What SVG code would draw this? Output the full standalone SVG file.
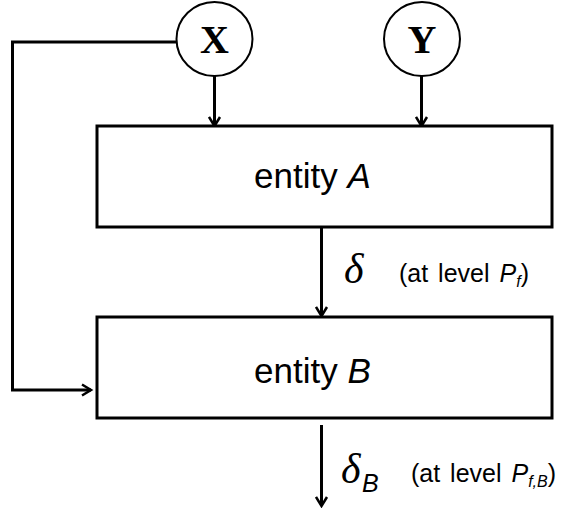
<svg xmlns="http://www.w3.org/2000/svg" width="569" height="508" viewBox="0 0 569 508">
<defs>
<marker id="ah" markerWidth="14" markerHeight="14" refX="11" refY="7" orient="auto" markerUnits="userSpaceOnUse">
<path d="M2,1.5 L11,7 L2,12.5" fill="none" stroke="#000" stroke-width="2.5"/>
</marker>
</defs>
<style>
.ln{fill:none;stroke:#000;stroke-width:3}
.bx{fill:#fff;stroke:#000;stroke-width:3}
.ci{fill:#fff;stroke:#000;stroke-width:2}
.lbl{font-family:"Liberation Sans",Arial,sans-serif;font-size:35px;fill:#000}
.var{font-family:"Liberation Serif","Times New Roman",serif;font-weight:bold;font-size:40px;fill:#000}
.sm{font-family:"Liberation Sans",Arial,sans-serif;font-size:25px;word-spacing:3px;fill:#000}
.dl{font-family:"Liberation Serif","Times New Roman",serif;font-style:italic;font-size:42px;fill:#000}
</style>
<g id="connectors">
<path class="ln" d="M176,42 H12.5 V390 H91" marker-end="url(#ah)"/>
<path class="ln" d="M214.5,76 V126" marker-end="url(#ah)"/>
<path class="ln" d="M421.5,76 V126" marker-end="url(#ah)"/>
<path class="ln" d="M321.5,227 V316" marker-end="url(#ah)"/>
<path class="ln" d="M321.5,425 V506" marker-end="url(#ah)"/>
</g>
<g id="X">
<ellipse class="ci" cx="214.5" cy="39" rx="38" ry="37"/>
<text class="var" x="214.5" y="53" text-anchor="middle">X</text>
</g>
<g id="Y">
<ellipse class="ci" cx="422" cy="39" rx="38" ry="37"/>
<text class="var" x="422" y="53" text-anchor="middle">Y</text>
</g>
<g id="entityA">
<rect class="bx" x="97" y="126" width="455" height="101"/>
<text class="lbl" x="254" y="188">entity <tspan font-style="italic">A</tspan></text>
</g>
<g id="entityB">
<rect class="bx" x="97" y="317" width="455" height="101"/>
<text class="lbl" x="254" y="383">entity <tspan font-style="italic">B</tspan></text>
</g>
<g id="labels">
<text class="dl" x="344" y="283">δ</text>
<text class="sm" x="399" y="282">(at level <tspan font-style="italic">P</tspan><tspan font-style="italic" font-size="16" dy="5">f</tspan><tspan dy="-5">)</tspan></text>
<text class="dl" x="341" y="483">δ</text>
<text class="sm" x="362" y="492" font-style="italic">B</text>
<text class="sm" x="411" y="482">(at level <tspan font-style="italic">P</tspan><tspan font-style="italic" font-size="16" dy="5">f,B</tspan><tspan dy="-5">)</tspan></text>
</g>
</svg>
